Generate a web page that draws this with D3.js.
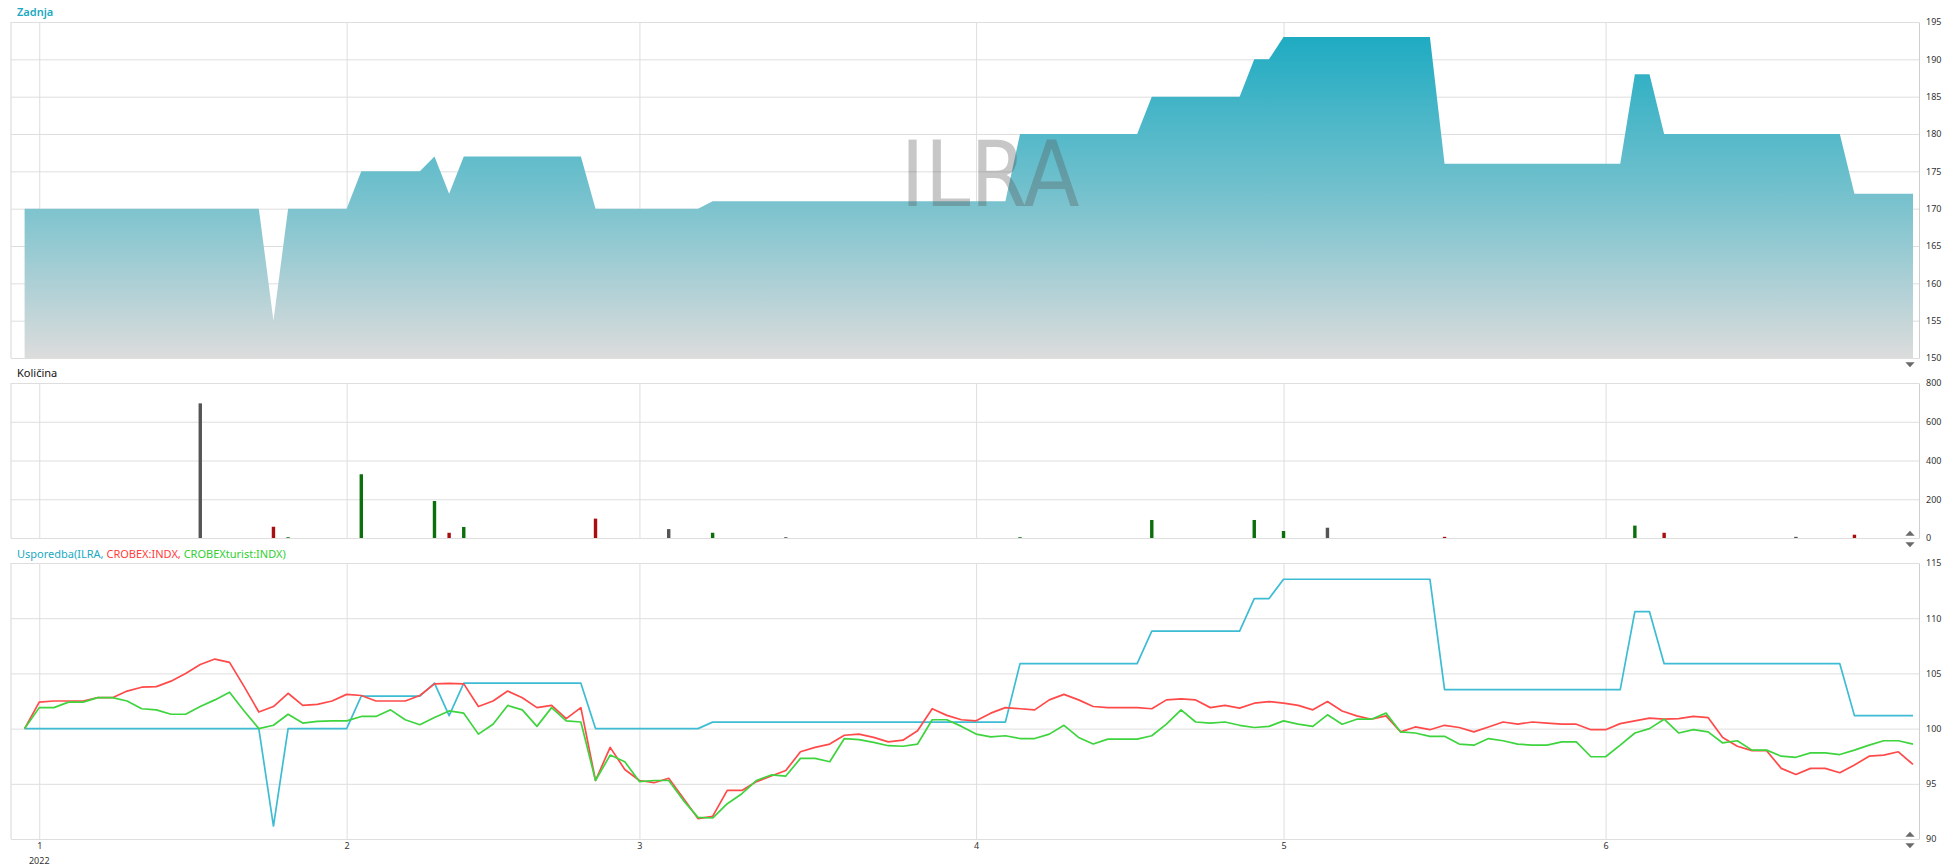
<html>
<head>
  <title>ILRA</title>
  <script src="https://d3js.org/d3.v7.min.js"></script>
  <style>
    body { margin: 0; background: #fff; font-family: 'Noto Sans', sans-serif; }
    .axis text { font-size: 9px; fill: #333; font-family: 'Noto Sans', sans-serif; }
    .axis line { stroke: #dedede; }
    .axis path { stroke: #cfcfcf; }
    .title { font-size: 11px; }
  </style>
</head>
<body>
<script>
  // month labels and the trading-day index where each month starts
  var months = ['1', '2', '3', '4', '5', '6']
  var monthDay = [1, 22, 42, 65, 86, 108]
  var year = '2022'

  // ILRA last price, one value per trading day
  var zadnja = [
    170, 170, 170, 170, 170, 170, 170, 170, 170, 170, 170, 170, 170, 170, 170, 170, 170,
    155,
    170, 170, 170, 170, 170,
    175, 175, 175, 175, 175,
    177, 172,
    177, 177, 177, 177, 177, 177, 177, 177, 177,
    170, 170, 170, 170, 170, 170, 170, 170,
    171, 171, 171, 171, 171, 171, 171, 171, 171, 171, 171, 171, 171, 171, 171, 171, 171, 171, 171, 171, 171,
    180, 180, 180, 180, 180, 180, 180, 180, 180,
    185, 185, 185, 185, 185, 185, 185,
    190, 190,
    193, 193, 193, 193, 193, 193, 193, 193, 193, 193, 193,
    176, 176, 176, 176, 176, 176, 176, 176, 176, 176, 176, 176, 176,
    188, 188,
    180, 180, 180, 180, 180, 180, 180, 180, 180, 180, 180, 180, 180,
    172, 172, 172, 172, 172
  ]

  // traded quantity (only days with trades)
  var volDay = [12, 17, 18, 23, 28, 29, 30, 39, 44, 47, 52, 68, 77, 84, 86, 89, 97, 110, 112, 121, 125]
  var volume = [695, 58, 4, 329, 191, 27, 57, 100, 46, 27, 4, 4, 93, 93, 36, 53, 6, 64, 27, 6, 17]

  // indices rebased to 100
  var crobex = [
    100, 102.4, 102.5, 102.5, 102.5, 102.8, 102.8, 103.4, 103.75, 103.8,
    104.3, 105.0, 105.8, 106.3, 106.0, 103.8, 101.5, 102.0, 103.2, 102.1,
    102.2, 102.5, 103.1, 103.0, 102.5, 102.5, 102.5, 103.0, 104.05, 104.1,
    104.05, 102.0, 102.5, 103.4, 102.8, 101.9, 102.1, 100.9, 101.9, 95.3,
    98.3, 96.3, 95.3, 95.1, 95.5, 93.7, 91.85, 92.05, 94.4, 94.4,
    95.2, 95.7, 96.2, 97.9, 98.3, 98.6, 99.4, 99.5, 99.2, 98.8,
    98.95, 99.8, 101.8, 101.2, 100.8, 100.7, 101.4, 101.9, 101.8, 101.7,
    102.6, 103.1, 102.6, 102.0, 101.9, 101.9, 101.9, 101.8, 102.6, 102.7,
    102.6, 101.9, 102.1, 101.85, 102.3, 102.45, 102.3, 102.1, 101.7, 102.45,
    101.6, 101.15, 100.85, 101.15, 99.7, 100.15, 99.9, 100.3, 100.1, 99.7,
    100.15, 100.6, 100.4, 100.6, 100.5, 100.4, 100.4, 99.9, 99.9, 100.45,
    100.7, 100.95, 100.85, 100.9, 101.1, 101.0, 99.2, 98.4, 98.0, 98.0,
    96.4, 95.85, 96.4, 96.4, 96.0, 96.7, 97.5, 97.6, 97.9, 96.75
  ]
  var turist = [
    100, 101.9, 101.9, 102.4, 102.4, 102.8, 102.8, 102.5, 101.8, 101.7,
    101.3, 101.3, 102.0, 102.6, 103.3, 101.6, 100.0, 100.3, 101.3, 100.5,
    100.65, 100.7, 100.7, 101.1, 101.1, 101.7, 100.8, 100.35, 101.0, 101.6,
    101.4, 99.5, 100.4, 102.1, 101.7, 100.2, 101.9, 100.7, 100.6, 95.3,
    97.6, 97.0, 95.2, 95.3, 95.3, 93.5, 91.96, 91.9, 93.2, 94.1,
    95.3, 95.8, 95.7, 97.3, 97.3, 97.0, 99.1, 99.0, 98.75, 98.45,
    98.4, 98.6, 100.8, 100.8, 100.2, 99.5, 99.25, 99.35, 99.1, 99.1,
    99.5, 100.3, 99.2, 98.6, 99.05, 99.05, 99.05, 99.35, 100.4, 101.7,
    100.6, 100.5, 100.6, 100.3, 100.1, 100.2, 100.7, 100.4, 100.2, 101.25,
    100.4, 100.85, 100.85, 101.4, 99.7, 99.6, 99.3, 99.3, 98.6, 98.5,
    99.1, 98.9, 98.6, 98.5, 98.5, 98.8, 98.8, 97.45, 97.45, 98.5,
    99.6, 100.0, 100.85, 99.6, 99.9, 99.7, 98.7, 98.9, 98.05, 98.05,
    97.5, 97.4, 97.8, 97.8, 97.65, 98.05, 98.5, 98.9, 98.9, 98.6
  ]

  var priceTicks = [150, 155, 160, 165, 170, 175, 180, 185, 190, 195]
  var volTicks = [0, 200, 400, 600, 800]
  var cmpTicks = [90, 95, 100, 105, 110, 115]

  // ILRA rebased to first day for the comparison panel
  var ilraRel = zadnja.map(function (v) { return v / zadnja[0] * 100 })

  var left = 11, right = 1919
  var svg = d3.select('body').append('svg')
      .attr('width', 1957)
      .attr('height', 868)

  var x = d3.scaleLinear()
    .domain([0, zadnja.length - 1])
    .range([24.6, 1913])

  // frame, grid and right axis of one panel
  function panel(top, bottom, domain, ticks, labels) {
    var y = d3.scaleLinear().domain(domain).range([bottom, top])
    var g = svg.append('g')
    g.append('line')
      .attr('x1', left).attr('x2', left)
      .attr('y1', top).attr('y2', bottom)
      .attr('stroke', '#d6d6d6')
    var xg = g.append('g')
        .attr('class', 'axis')
        .attr('transform', 'translate(0,' + bottom + ')')
        .call(d3.axisBottom(x)
          .tickValues(monthDay)
          .tickSize(-(bottom - top))
          .tickPadding(4)
          .tickFormat(function (d, i) { return labels ? months[i] : '' }))
    xg.select('.domain').remove()
    xg.selectAll('line').attr('stroke', '#d2d2d2')
    g.append('g')
        .attr('class', 'axis')
        .attr('transform', 'translate(' + right + ',0)')
        .call(d3.axisRight(y)
          .tickValues(ticks)
          .tickSize(-(right - left))
          .tickSizeOuter(0)
          .tickPadding(7))
    return y
  }

  // --- Zadnja ---
  var yP = panel(22, 358, [150, 195], priceTicks, false)
  var grad = svg.append('defs').append('linearGradient')
      .attr('id', 'grad')
      .attr('gradientUnits', 'userSpaceOnUse')
      .attr('x1', 0).attr('y1', 22).attr('x2', 0).attr('y2', 358)
  grad.append('stop').attr('offset', 0).attr('stop-color', '#16a9c1')
  grad.append('stop').attr('offset', 0.55).attr('stop-color', '#7cc3ce')
  grad.append('stop').attr('offset', 1).attr('stop-color', '#dcdcdc')

  svg.append('path')
    .datum(zadnja)
    .attr('fill', 'url(#grad)')
    .attr('d', d3.area()
      .x(function (d, i) { return x(i) })
      .y0(yP(150))
      .y1(function (d) { return yP(d) }))

  svg.append('text')
    .attr('x', 990).attr('y', 206)
    .attr('text-anchor', 'middle')
    .style('font-family', "'DejaVu Sans Condensed', 'DejaVu Sans', sans-serif")
    .style('font-size', '91px')
    .attr('fill', '#555')
    .attr('fill-opacity', 0.33)
    .text('ILRA')

  svg.append('text').attr('class', 'title')
    .attr('x', 17).attr('y', 16)
    .attr('fill', '#1aa9c1')
    .style('font-weight', 600)
    .text('Zadnja')

  // --- Količina ---
  var yV = panel(383, 538, [0, 800], volTicks, false)
  svg.append('g').selectAll('rect')
      .data(volDay)
      .enter()
    .append('rect')
      .attr('x', function (d) { return x(d) - 1.7 })
      .attr('width', 3.4)
      .attr('y', function (d, i) { return yV(volume[i]) })
      .attr('height', function (d, i) { return yV(0) - yV(volume[i]) })
      .attr('fill', function (d) {
        if (zadnja[d] > zadnja[d - 1]) return '#0b6f0b'
        if (zadnja[d] < zadnja[d - 1]) return '#a80f0f'
        return '#555'
      })

  svg.append('text').attr('class', 'title')
    .attr('x', 17).attr('y', 377)
    .attr('fill', '#111')
    .text('Količina')

  // --- Usporedba ---
  var yC = panel(563, 839, [90, 115], cmpTicks, true)
  var line = d3.line()
    .x(function (d, i) { return x(i) })
    .y(function (d) { return yC(d) })
  var series = [
    { values: ilraRel, color: '#3dbcd4' },
    { values: crobex, color: '#ff4a4a' },
    { values: turist, color: '#3ed43e' }
  ]
  series.forEach(function (s) {
    svg.append('path')
      .datum(s.values)
      .attr('fill', 'none')
      .attr('stroke', s.color)
      .attr('stroke-width', 1.7)
      .attr('stroke-linejoin', 'round')
      .attr('d', line)
  })

  svg.append('text')
    .attr('x', x(monthDay[0])).attr('y', 864)
    .attr('text-anchor', 'middle')
    .style('font-size', '9px')
    .attr('fill', '#333')
    .text(year)

  var t = svg.append('text').attr('class', 'title')
    .attr('x', 17).attr('y', 558)
  t.append('tspan').attr('fill', '#1aa9c1').text('Usporedba(ILRA, ')
  t.append('tspan').attr('fill', '#ff3b3b').text('CROBEX:INDX, ')
  t.append('tspan').attr('fill', '#2fcf2f').text('CROBEXturist:INDX)')

  // scroll arrows at the right edge
  var arrows = [[364, 180], [534, 0], [544, 180], [835, 0], [845, 180]]
  svg.append('g').selectAll('path')
      .data(arrows)
      .enter()
    .append('path')
      .attr('d', d3.symbol(d3.symbolTriangle).size(22))
      .attr('transform', function (d) { return 'translate(1910,' + d[0] + ') rotate(' + d[1] + ') scale(1.3,0.8)' })
      .attr('fill', '#6a6a6a')
</script>
</body>
</html>
